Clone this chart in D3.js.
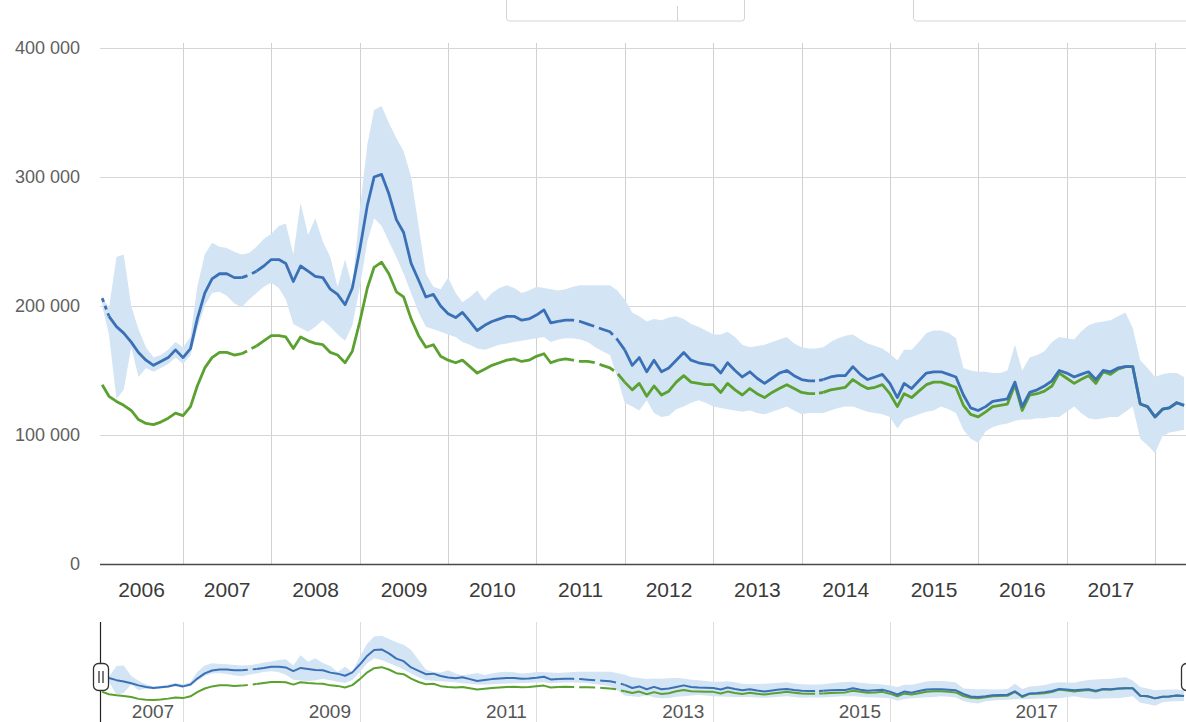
<!DOCTYPE html>
<html>
<head>
<meta charset="utf-8">
<script src="https://d3js.org/d3.v7.min.js"></script>
<style>
  html, body { margin: 0; padding: 0; background: #fff; }
  svg { display: block; font-family: "Liberation Sans", Arial, sans-serif; }
</style>
</head>
<body>
<div id="chart"></div>
<script>
// monthly points, Feb 2006 .. May 2018 (values in thousands)
var months = d3.timeMonth.range(new Date(2006, 1, 1), new Date(2018, 5, 1));

var upperLine = [
  206, 192, 184, 179, 172, 164, 158, 154, 157, 160, 166, 160,
  167, 190, 210, 221, 225, 225, 222, 222, 224, 227, 231, 236,
  236, 233, 219, 231, 227, 223, 222, 213, 209, 201, 214, 244,
  278, 300, 302, 287, 267, 257, 233, 220, 207, 209, 200, 194,
  191, 195, 188, 181, 185, 188, 190, 192, 192, 189, 190, 193,
  197, 187, 188, 189, 189, 188, 186, 184, 182, 180, 174, 166,
  154, 160, 149, 158, 149, 152, 158, 164, 158, 156, 155, 154,
  148, 156, 150, 145, 149, 144, 140, 144, 148, 150, 146, 143,
  142, 142, 143, 145, 146, 146, 153, 147, 143, 145, 147, 140,
  129, 140, 136, 142, 148, 149, 149, 147, 145, 131, 121, 119,
  122, 126, 127, 128, 141, 122, 133, 135, 138, 142, 150, 148,
  145, 147, 149, 143, 150, 149, 152, 153, 153, 124, 122, 114,
  120, 121, 125, 123
];

var lowerLine = [
  139, 130, 126, 123, 119, 112, 109, 108, 110, 113, 117, 115,
  122, 138, 152, 160, 164, 164, 162, 163, 166, 169, 173, 177,
  177, 176, 167, 176, 173, 171, 170, 164, 162, 156, 165, 188,
  214, 230, 234, 225, 211, 207, 190, 177, 168, 170, 161, 158,
  156, 158, 153, 148, 151, 154, 156, 158, 159, 157, 158, 161,
  163, 156, 158, 159, 158, 157, 157, 156, 154, 152, 148, 141,
  135, 140, 130, 138, 131, 134, 141, 146, 141, 140, 139, 139,
  133, 140, 135, 131, 136, 132, 129, 133, 136, 139, 136, 133,
  132, 132, 133, 135, 136, 137, 143, 139, 136, 137, 139, 132,
  122, 132, 129, 134, 139, 141, 141, 139, 137, 123, 116, 114,
  118, 122, 123, 124, 139, 119, 131, 132, 134, 138, 148, 144,
  140, 143, 146, 140, 149, 147, 151, 153, 153, 124, 122, 114,
  120, 121, 125, 123
];

var rangeLow = [
  200, 178, 128, 135, 168, 145, 152, 149, 152, 155, 160, 155,
  162, 182, 200, 210, 211, 208, 202, 199, 205, 210, 215, 218,
  214, 205, 186, 183, 180, 184, 189, 184, 178, 173, 185, 215,
  250, 268, 262, 250, 238, 225, 210, 195, 184, 182, 180, 178,
  176, 172, 170, 167, 166, 168, 170, 171, 172, 173, 174, 175,
  176, 172, 174, 175, 175, 174, 172, 168, 165, 162, 145, 125,
  122, 119, 127, 117, 114, 115, 120, 122, 125, 127, 125, 122,
  121, 120, 119, 118, 119, 117, 116, 118, 120, 122, 119, 116,
  117, 117, 117, 119, 121, 122, 122, 120, 118, 117, 116, 114,
  105, 112, 114, 116, 118, 119, 122, 120, 117, 104, 97, 94,
  103, 106, 108, 109, 111, 112, 112, 113, 113, 114, 114, 118,
  122, 117, 113, 112, 113, 114, 114, 118, 122, 97, 92, 86,
  99, 102, 103, 104
];

var rangeHigh = [
  208, 198, 238, 240, 200, 182, 168, 160, 162, 166, 172, 168,
  176, 215, 240, 249, 246, 245, 242, 240, 241, 246, 252, 256,
  262, 264, 240, 280, 255, 268, 250, 238, 215, 236, 215, 275,
  325, 352, 355, 342, 330, 320, 300, 262, 225, 215, 213, 222,
  210, 203, 207, 212, 204, 210, 214, 216, 214, 210, 212, 215,
  214, 213, 212, 213, 215, 216, 216, 216, 216, 216, 212, 205,
  195, 192, 188, 190, 189, 191, 192, 190, 186, 184, 181, 178,
  178, 180, 176, 170, 168, 169, 170, 172, 174, 176, 171, 168,
  167, 167, 168, 172, 175, 177, 178, 174, 171, 169, 167, 163,
  158, 166, 166, 172, 179, 181, 181, 179, 175, 152, 150, 149,
  149, 148, 148, 150, 170, 150, 160, 162, 165, 172, 176, 175,
  174, 180, 185, 187, 188, 189, 192, 195, 183, 158, 152, 145,
  147, 148, 148, 145
];

// dashed stretches: [from, to, dash pattern, series]
var dashedSpans = [
  ["2006-02", "2006-03", "4,4", ["upper"]],
  ["2007-09", "2007-11", "6,5", ["upper", "lower"]],
  ["2011-04", "2012-01", "16,5", ["upper", "lower"]],
  ["2014-02", "2014-04", "6,4", ["upper", "lower"]]
];

var yTickValues = [0, 100, 200, 300, 400];
var yTickLabels = ["0", "100 000", "200 000", "300 000", "400 000"];
var yearLabels = ["2006", "2007", "2008", "2009", "2010", "2011", "2012", "2013", "2014", "2015", "2016", "2017"];
var navYearLabels = ["2007", "2009", "2011", "2013", "2015", "2017"];

var W = 1186, H = 722;
var plotLeft = 100, plotRight = 1186, plotTop = 48, plotBottom = 564;
var blue = "#3a70b5", green = "#5aa130", band = "#d3e4f4";

var data = months.map(function (m, i) {
  return { date: m, upper: upperLine[i], lower: lowerLine[i], low: rangeLow[i], high: rangeHigh[i] };
});

var x = d3.scaleTime()
  .domain([new Date(2007, 0, 1), new Date(2018, 0, 1)])
  .range([183, 1155]);
var y = d3.scaleLinear().domain([0, 400]).range([plotBottom, plotTop]);
var yNav = d3.scaleLinear().domain([0, 400]).range([728, 624]);

var svg = d3.select("#chart").append("svg").attr("width", W).attr("height", H);

// cut-off range selector boxes at the top
var boxes = svg.append("g").attr("fill", "none").attr("stroke", "#d4d4d4");
boxes.append("rect").attr("x", 506.5).attr("y", -6).attr("width", 238).attr("height", 27).attr("rx", 3);
boxes.append("line").attr("x1", 677.5).attr("x2", 677.5).attr("y1", 6).attr("y2", 21);
boxes.append("rect").attr("x", 913.5).attr("y", -6).attr("width", 290).attr("height", 27).attr("rx", 3);

// grid
var yearTicks = d3.timeYear.range(new Date(2007, 0, 1), new Date(2018, 0, 2));
svg.append("g").selectAll("line").data(yearTicks).join("line")
  .attr("x1", function (d) { return Math.round(x(d)) + 0.5; })
  .attr("x2", function (d) { return Math.round(x(d)) + 0.5; })
  .attr("y1", 43).attr("y2", plotBottom)
  .attr("stroke", "#d0d0d0");

svg.append("g").selectAll("line").data(yTickValues.slice(1)).join("line")
  .attr("x1", plotLeft).attr("x2", plotRight)
  .attr("y1", function (d) { return Math.round(y(d)) + 0.5; })
  .attr("y2", function (d) { return Math.round(y(d)) + 0.5; })
  .attr("stroke", "#d6d6d6");

// y labels
svg.append("g").selectAll("text").data(yTickValues).join("text")
  .attr("x", 80)
  .attr("y", function (d) { return y(d) + 6; })
  .attr("text-anchor", "end")
  .attr("font-size", 18)
  .attr("fill", "#606060")
  .text(function (d, i) { return yTickLabels[i]; });

// band + lines
function drawSeries(g, ys, width) {
  var area = d3.area()
    .x(function (d) { return x(d.date); })
    .y0(function (d) { return ys(d.low); })
    .y1(function (d) { return ys(d.high); });
  g.append("path").datum(data).attr("d", area).attr("fill", band);

  [["lower", green], ["upper", blue]].forEach(function (s) {
    var key = s[0];
    var spans = dashedSpans.filter(function (r) { return r[3].indexOf(key) >= 0; })
      .map(function (r) {
        return [monthIndex(r[0]), monthIndex(r[1]), r[2]];
      });
    var pieces = [];
    var start = 0;
    spans.forEach(function (r) {
      if (r[0] > start) pieces.push([start, r[0], null]);
      pieces.push(r);
      start = r[1];
    });
    pieces.push([start, data.length - 1, null]);

    var line = d3.line()
      .x(function (d) { return x(d.date); })
      .y(function (d) { return ys(d[key]); });

    pieces.forEach(function (p) {
      g.append("path")
        .datum(data.slice(p[0], p[1] + 1))
        .attr("d", line)
        .attr("fill", "none")
        .attr("stroke", s[1])
        .attr("stroke-width", width)
        .attr("stroke-linejoin", "round")
        .attr("stroke-dasharray", p[2]);
    });
  });
}

function monthIndex(str) {
  var p = str.split("-");
  var t = new Date(+p[0], +p[1] - 1, 1).getTime();
  return data.findIndex(function (d) { return d.date.getTime() === t; });
}

drawSeries(svg.append("g"), y, 2.8);

// x axis baseline and labels
svg.append("line")
  .attr("x1", plotLeft).attr("x2", plotRight)
  .attr("y1", plotBottom + 0.5).attr("y2", plotBottom + 0.5)
  .attr("stroke", "#4a4a4a").attr("stroke-width", 1.3);

svg.append("g").selectAll("text").data(yearLabels).join("text")
  .attr("x", function (d) {
    var a = Math.max(plotLeft, x(new Date(+d, 0, 1)));
    var b = x(new Date(+d + 1, 0, 1));
    return (a + b) / 2;
  })
  .attr("y", 597)
  .attr("text-anchor", "middle")
  .attr("font-size", 21)
  .attr("fill", "#3a3a3a")
  .text(function (d) { return d; });

// navigator
var nav = svg.append("g");
nav.selectAll("line.grid").data(navYearLabels).join("line")
  .attr("class", "grid")
  .attr("x1", function (d) { return Math.round(x(new Date(+d, 0, 1))) + 0.5; })
  .attr("x2", function (d) { return Math.round(x(new Date(+d, 0, 1))) + 0.5; })
  .attr("y1", 622).attr("y2", H)
  .attr("stroke", "#dcdcdc");

drawSeries(nav.append("g"), yNav, 2);

nav.selectAll("text").data(navYearLabels).join("text")
  .attr("x", function (d) { return x(new Date(+d, 0, 1)) - 30; })
  .attr("y", 718)
  .attr("text-anchor", "middle")
  .attr("font-size", 19)
  .attr("fill", "#555")
  .text(function (d) { return d; });

// navigator handles
nav.append("line").attr("x1", 100.5).attr("x2", 100.5).attr("y1", 622).attr("y2", H)
  .attr("stroke", "#222").attr("stroke-width", 1.2);
var lh = nav.append("g").attr("transform", "translate(101,677)");
lh.append("rect").attr("x", -7.5).attr("y", -13.5).attr("width", 15).attr("height", 27).attr("rx", 5)
  .attr("fill", "#fff").attr("stroke", "#333").attr("stroke-width", 1.3);
lh.append("line").attr("x1", -2).attr("x2", -2).attr("y1", -6).attr("y2", 6).attr("stroke", "#333").attr("stroke-width", 1.3);
lh.append("line").attr("x1", 2).attr("x2", 2).attr("y1", -6).attr("y2", 6).attr("stroke", "#333").attr("stroke-width", 1.3);
var rh = nav.append("g").attr("transform", "translate(1190,677)");
rh.append("rect").attr("x", -8.5).attr("y", -13.5).attr("width", 15).attr("height", 27).attr("rx", 5)
  .attr("fill", "#fff").attr("stroke", "#333").attr("stroke-width", 1.3);
</script>
</body>
</html>
